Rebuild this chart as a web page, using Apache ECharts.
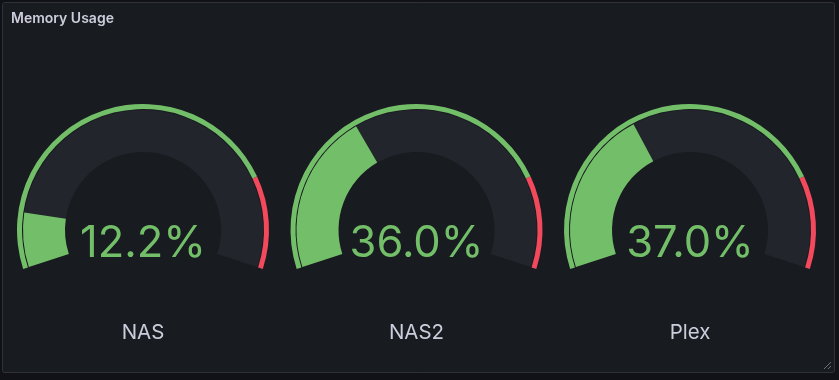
<!DOCTYPE html>
<html>
<head>
<meta charset="utf-8">
<script src="https://cdn.jsdelivr.net/npm/echarts@6/dist/echarts.min.js"></script>
<style>
html,body{margin:0;padding:0;background:#111217;}
#chart{width:839px;height:380px;}
</style>
</head>
<body>
<div id="chart"></div>
<script>
const title = 'Memory Usage';
const names = ['NAS', 'NAS2', 'Plex'];
const values = [12.2, 36.0, 37.0];
const gaugeMin = 0;
const gaugeMax = 100;
const thresholdRed = 80;

const GREEN = '#73bf69', RED = '#f2495c';
const centersX = [143, 416.5, 690];
const cy = 230;

const chart = echarts.init(document.getElementById('chart'));
const series = [];
names.forEach((n, i) => {
  const c = [centersX[i], cy];
  const base = {
    type: 'gauge', center: c, startAngle: 198, endAngle: -18,
    min: gaugeMin, max: gaugeMax, silent: true, animation: false,
    pointer: {show: false}, anchor: {show: false},
    splitLine: {show: false}, axisTick: {show: false}, axisLabel: {show: false}
  };
  // threshold ring
  series.push(Object.assign({}, base, {
    radius: 126,
    axisLine: {lineStyle: {width: 5, color: [[thresholdRed / gaugeMax, GREEN], [1, RED]]}},
    progress: {show: false},
    title: {show: false}, detail: {show: false},
    data: [{value: values[i]}]
  }));
  // main gauge
  series.push(Object.assign({}, base, {
    radius: 120,
    axisLine: {lineStyle: {width: 42, color: [[1, '#22252b']]}},
    progress: {show: true, width: 42, roundCap: false, itemStyle: {color: GREEN}},
    title: {show: true, offsetCenter: [0, 103], color: '#ccccdc', fontSize: 20.5, fontFamily: 'Inter'},
    detail: {
      show: true, offsetCenter: [0, 14], color: GREEN, fontSize: 43.5, fontFamily: 'Inter', fontWeight: 400,
      formatter: v => v.toFixed(1) + '%'
    },
    data: [{value: values[i], name: n}]
  }));
});

chart.setOption({
  backgroundColor: '#111217',
  graphic: [
    {type: 'rect', z: -10, shape: {x: 2.5, y: 2.5, width: 832, height: 370, r: 2},
     style: {fill: '#181b1f', stroke: '#2f3238', lineWidth: 1}},
    {type: 'text', left: 11, top: 12, style: {text: title, fill: '#ccccdc', font: '600 14px Inter'}},
    {type: 'line', shape: {x1: 824, y1: 369, x2: 831, y2: 362}, style: {stroke: '#6e7077', lineWidth: 1}},
    {type: 'line', shape: {x1: 828, y1: 369, x2: 831, y2: 366}, style: {stroke: '#6e7077', lineWidth: 1}}
  ],
  series: series
});
</script>
</body>
</html>
